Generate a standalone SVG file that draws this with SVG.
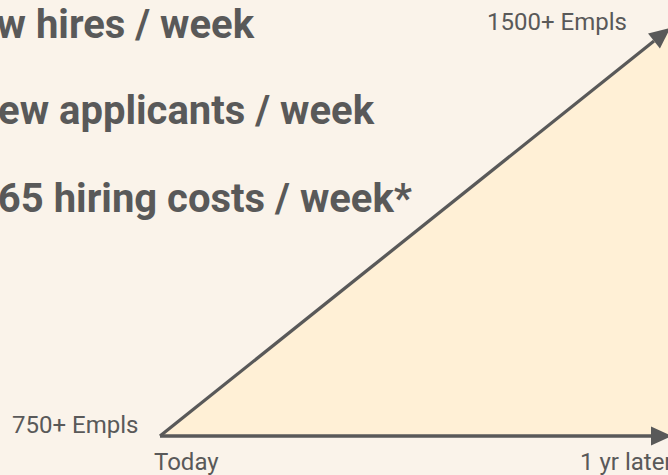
<svg xmlns="http://www.w3.org/2000/svg" width="668" height="475" viewBox="0 0 668 475">
  <style>
    .big { font-family: Roboto, "Liberation Sans", sans-serif; font-weight: bold; font-size: 40px; fill: #595959; }
    .small { font-family: Roboto, "Liberation Sans", sans-serif; font-size: 24px; fill: #595959; }
    .conn { stroke: #595959; stroke-width: 3.3; fill: none; }
  </style>
  <defs>
    <marker id="ah" markerUnits="userSpaceOnUse" markerWidth="22" markerHeight="20" refX="0" refY="9.5" orient="auto" overflow="visible">
      <path d="M0,0 L21,9.5 L0,19 z" fill="#595959"/>
    </marker>
  </defs>
  <rect width="668" height="475" fill="#FAF3EA"/>
  <g id="area">
    <polygon points="160,436 690,436 690,10" fill="#FFF0D6"/>
  </g>
  <g id="stats">
    <text class="big" x="254" y="37.5" text-anchor="end">w hires / week</text>
    <text class="big" x="374" y="124" text-anchor="end">ew applicants / week</text>
    <text class="big" x="412" y="211.5" text-anchor="end">65 hiring costs / week*</text>
  </g>
  <g id="label-1500">
    <text class="small" x="487" y="30">1500+ Empls</text>
  </g>
  <g id="label-750">
    <text class="small" x="12" y="433">750+ Empls</text>
  </g>
  <g id="label-today">
    <text class="small" x="154" y="470">Today</text>
  </g>
  <g id="label-later">
    <text class="small" x="580" y="470">1 yr later</text>
  </g>
  <g id="connectors">
    <line class="conn" x1="160" y1="436" x2="651" y2="436" marker-end="url(#ah)"/>
    <line class="conn" x1="160" y1="436" x2="654" y2="41" marker-end="url(#ah)"/>
  </g>
</svg>
